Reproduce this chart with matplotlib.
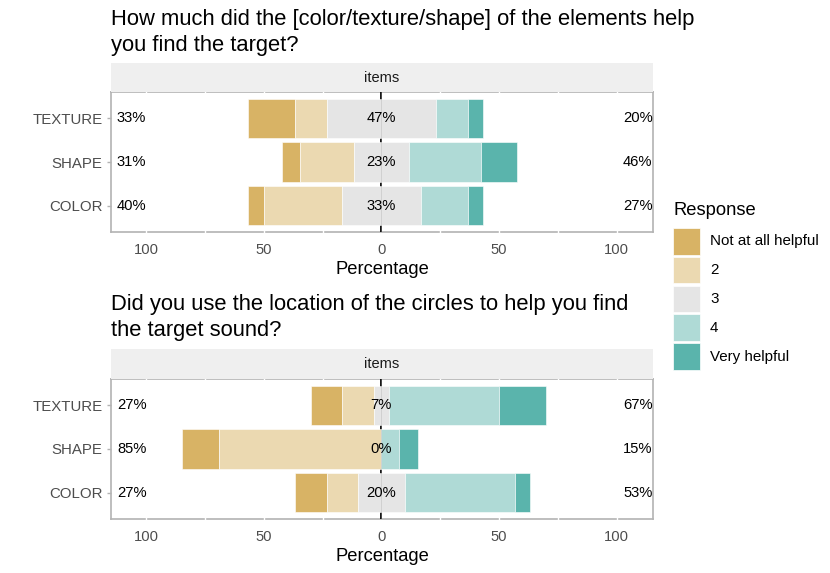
import matplotlib
matplotlib.use('Agg')
import matplotlib.pyplot as plt
from matplotlib.patches import Rectangle

plt.rcParams['font.family'] = ['Liberation Sans', 'DejaVu Sans']

# ---------------- data ----------------
items = ['COLOR', 'SHAPE', 'TEXTURE']          # bottom -> top
levels = ['Not at all helpful', '2', '3', '4', 'Very helpful']
colors = ['#D8B365', '#EBD9B1', '#E5E5E5', '#AFDAD6', '#5AB4AC']

title1 = ['How much did the [color/texture/shape] of the elements help',
          'you find the target?']
title2 = ['Did you use the location of the circles to help you find',
          'the target sound?']

# percentages per response level (levels order), per item
q1_color = [6.67, 33.33, 33.33, 20.00, 6.67]
q1_shape = [7.69, 23.08, 23.08, 30.77, 15.38]
q1_texture = [20.00, 13.33, 46.67, 13.33, 6.67]

q2_color = [13.33, 13.33, 20.00, 46.67, 6.67]
q2_shape = [15.38, 69.23, 0.00, 7.69, 7.69]
q2_texture = [13.33, 13.33, 6.67, 46.67, 20.00]

q1 = [q1_color, q1_shape, q1_texture]
q2 = [q2_color, q2_shape, q2_texture]

xticks = [-100, -50, 0, 50, 100]
xticklabels = ['100', '50', '0', '50', '100']

W, H = 830, 573
fig = plt.figure(figsize=(W / 100, H / 100), dpi=100)

def fx(px):
    return px / W

def fy(py):
    return 1 - py / H

BORDER = '#B3B3B3'
STRIP = '#EFEFEF'


def panel(top_px, bottom_px, strip_top_px, data, title_lines, base_y):
    ax = fig.add_axes([fx(111), fy(bottom_px), fx(653) - fx(111), fy(top_px) - fy(bottom_px)])
    ax.set_xlim(-115, 115.5)
    ax.set_ylim(0.4, 3.6)
    for s in ax.spines.values():
        s.set_color(BORDER)
        s.set_linewidth(1.2)
        s.set_zorder(0.5)
    # white grid lines (over border, under bars)
    for gx in [-100, -75, -50, -25, 25, 50, 75, 100]:
        ax.plot([gx, gx], [0.37, 3.63], color='white', lw=1.0, zorder=1, clip_on=False)
    # zero line
    ax.plot([0, 0], [0.4, 3.6], color='black', lw=1.3, zorder=1.5)
    for i, vals in enumerate(data):
        y = i + 1
        p1, p2, p3, p4, p5 = vals
        lefts = [-p3 / 2 - p2 - p1, -p3 / 2 - p2, -p3 / 2, p3 / 2, p3 / 2 + p4]
        for k in range(5):
            if vals[k] > 0:
                ax.barh(y, vals[k], left=lefts[k], height=0.9, color=colors[k],
                        edgecolor='white', linewidth=0.4, zorder=2)
        low = round(p1 + p2)
        neu = round(p3)
        high = round(p4 + p5)
        ax.text(-112.5, y, f'{low}%', ha='left', va='center', fontsize=10.6, zorder=4)
        ax.text(0, y, f'{neu}%', ha='center', va='center', fontsize=10.6, zorder=4)
        ax.text(115.3, y, f'{high}%', ha='right', va='center', fontsize=10.6, zorder=4)
    ax.plot([0, 0], [0.4, 3.6], color='#AAAAAA', lw=0.5, alpha=0.5, zorder=3)
    ax.set_yticks([1, 2, 3])
    ax.set_yticklabels(items, fontsize=10.8, color='#4D4D4D')
    ax.set_xticks(xticks)
    ax.set_xticklabels(xticklabels, fontsize=10.6, color='#4D4D4D')
    ax.tick_params(axis='y', length=3, width=1, color=BORDER, pad=3)
    ax.tick_params(axis='x', length=0, pad=8)
    ax.set_xlabel('Percentage', fontsize=13.2, labelpad=3)
    # strip
    sax = fig.add_axes([fx(111), fy(top_px), fx(653) - fx(111), fy(strip_top_px) - fy(top_px)])
    sax.set_facecolor(STRIP)
    for s in sax.spines.values():
        s.set_visible(False)
    sax.set_xticks([])
    sax.set_yticks([])
    sax.text(0.5, 0.5, 'items', ha='center', va='center', fontsize=10.5,
             color='#1A1A1A', transform=sax.transAxes)
    for j, line in enumerate(title_lines):
        fig.text(fx(111), fy(base_y + j * 25.7), line, ha='left', va='baseline',
                 fontsize=15.8, color='black')
    return ax


panel(92, 232, 63, q1, title1, 25)
panel(379, 519, 349, q2, title2, 310)

# legend
fig.text(fx(673), fy(210), 'Response', ha='left', va='center', fontsize=13.2)
for k, (lab, col) in enumerate(zip(levels, colors)):
    top = 228 + k * 28.8
    fig.add_artist(Rectangle((fx(673), fy(top + 26.5)), fx(27), fy(top) - fy(top + 26.5),
                             transform=fig.transFigure, facecolor=col, edgecolor='white', lw=0.5))
    fig.text(fx(710), fy(top + 13.5), lab, ha='left', va='center', fontsize=10.9)

fig.savefig('out.png', dpi=100)
